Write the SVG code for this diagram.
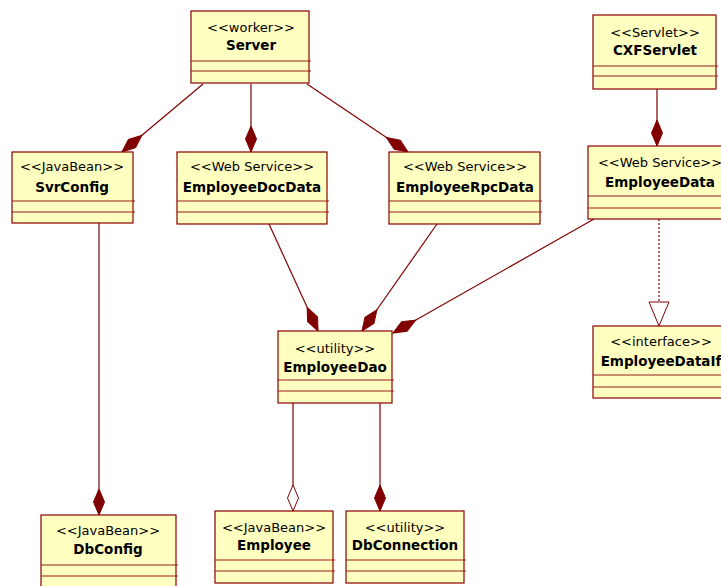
<svg xmlns="http://www.w3.org/2000/svg" width="721" height="586" viewBox="0 0 721 586">
<style>
.box{fill:#ffffc0;stroke:#8b0000;stroke-width:1.2}
.sep{stroke:#9a1c1c;stroke-width:1.2}
.st{font-family:"DejaVu Sans",sans-serif;font-size:13px;fill:#000;text-anchor:middle}
.nm{font-family:"DejaVu Sans",sans-serif;font-size:13.5px;font-weight:bold;fill:#000;text-anchor:middle}
.ln{stroke:#800000;stroke-width:1.2;fill:none}
.comp{marker-end:url(#dfill)}
.aggr{marker-end:url(#dopen)}
.real{stroke-dasharray:2,2;marker-end:url(#tri)}
</style>
<defs>
<marker id="dfill" viewBox="0 0 28 12" refX="27" refY="6" markerWidth="28" markerHeight="12" markerUnits="userSpaceOnUse" orient="auto"><path d="M1,6 L14,0.5 L27,6 L14,11.5 Z" fill="#800000" stroke="#800000" stroke-width="1"/></marker>
<marker id="dopen" viewBox="0 0 28 12" refX="27" refY="6" markerWidth="28" markerHeight="12" markerUnits="userSpaceOnUse" orient="auto"><path d="M1,6 L14,0.5 L27,6 L14,11.5 Z" fill="#ffffff" stroke="#800000" stroke-width="1"/></marker>
<marker id="tri" viewBox="0 0 26 22" refX="25" refY="11" markerWidth="26" markerHeight="22" markerUnits="userSpaceOnUse" orient="auto"><path d="M1,1 L25,11 L1,21 Z" fill="#ffffff" stroke="#800000" stroke-width="1"/></marker>
</defs>

<g id="connectors">
<line class="ln comp" x1="203" y1="84" x2="122" y2="152"/>
<line class="ln comp" x1="251" y1="84" x2="251" y2="152"/>
<line class="ln comp" x1="307" y1="84" x2="408" y2="152"/>
<line class="ln comp" x1="657" y1="89" x2="657" y2="146"/>
<line class="ln comp" x1="269" y1="224" x2="318" y2="331"/>
<line class="ln comp" x1="437" y1="224" x2="362" y2="331"/>
<line class="ln comp" x1="594" y1="219" x2="393" y2="333"/>
<line class="ln real" x1="659" y1="219" x2="659" y2="326"/>
<line class="ln comp" x1="99" y1="223" x2="99" y2="515"/>
<line class="ln aggr" x1="293" y1="403" x2="293" y2="511"/>
<line class="ln comp" x1="380" y1="403" x2="380" y2="511"/>
</g>

<g id="Server">
<rect class="box" x="191" y="11" width="118" height="72"/>
<line class="sep" x1="191" y1="61" x2="311" y2="61"/>
<line class="sep" x1="191" y1="71" x2="311" y2="71"/>
<text class="st" x="251" y="32">&lt;&lt;worker&gt;&gt;</text>
<text class="nm" x="251" y="50">Server</text>
</g>

<g id="CXFServlet">
<rect class="box" x="593" y="15" width="123" height="74"/>
<line class="sep" x1="593" y1="66" x2="718" y2="66"/>
<line class="sep" x1="593" y1="76" x2="718" y2="76"/>
<text class="st" x="655" y="37">&lt;&lt;Servlet&gt;&gt;</text>
<text class="nm" x="655" y="55">CXFServlet</text>
</g>

<g id="SvrConfig">
<rect class="box" x="12" y="152" width="121" height="71"/>
<line class="sep" x1="12" y1="201" x2="135" y2="201"/>
<line class="sep" x1="12" y1="212" x2="135" y2="212"/>
<text class="st" x="72" y="171">&lt;&lt;JavaBean&gt;&gt;</text>
<text class="nm" x="72" y="192">SvrConfig</text>
</g>

<g id="EmployeeDocData">
<rect class="box" x="177" y="152" width="150" height="72"/>
<line class="sep" x1="177" y1="201" x2="329" y2="201"/>
<line class="sep" x1="177" y1="212" x2="329" y2="212"/>
<text class="st" x="252" y="171">&lt;&lt;Web Service&gt;&gt;</text>
<text class="nm" x="252" y="192">EmployeeDocData</text>
</g>

<g id="EmployeeRpcData">
<rect class="box" x="389" y="152" width="151" height="72"/>
<line class="sep" x1="389" y1="201" x2="542" y2="201"/>
<line class="sep" x1="389" y1="212" x2="542" y2="212"/>
<text class="st" x="465" y="171">&lt;&lt;Web Service&gt;&gt;</text>
<text class="nm" x="465" y="192">EmployeeRpcData</text>
</g>

<g id="EmployeeData">
<rect class="box" x="588" y="146" width="144" height="73"/>
<line class="sep" x1="588" y1="196" x2="734" y2="196"/>
<line class="sep" x1="588" y1="208" x2="734" y2="208"/>
<text class="st" x="660" y="167">&lt;&lt;Web Service&gt;&gt;</text>
<text class="nm" x="660" y="187">EmployeeData</text>
</g>

<g id="EmployeeDao">
<rect class="box" x="278" y="331" width="114" height="72"/>
<line class="sep" x1="278" y1="380" x2="394" y2="380"/>
<line class="sep" x1="278" y1="391" x2="394" y2="391"/>
<text class="st" x="335" y="353">&lt;&lt;utility&gt;&gt;</text>
<text class="nm" x="335" y="372">EmployeeDao</text>
</g>

<g id="EmployeeDataIf">
<rect class="box" x="593" y="326" width="136" height="72"/>
<line class="sep" x1="593" y1="375" x2="731" y2="375"/>
<line class="sep" x1="593" y1="387" x2="731" y2="387"/>
<text class="st" x="661" y="346">&lt;&lt;interface&gt;&gt;</text>
<text class="nm" x="661" y="366">EmployeeDataIf</text>
</g>

<g id="DbConfig">
<rect class="box" x="41" y="515" width="135" height="74"/>
<line class="sep" x1="41" y1="565" x2="178" y2="565"/>
<line class="sep" x1="41" y1="576" x2="178" y2="576"/>
<text class="st" x="108" y="535">&lt;&lt;JavaBean&gt;&gt;</text>
<text class="nm" x="108" y="554">DbConfig</text>
</g>

<g id="Employee">
<rect class="box" x="215" y="511" width="118" height="72"/>
<line class="sep" x1="215" y1="560" x2="335" y2="560"/>
<line class="sep" x1="215" y1="571" x2="335" y2="571"/>
<text class="st" x="274" y="532">&lt;&lt;JavaBean&gt;&gt;</text>
<text class="nm" x="274" y="550">Employee</text>
</g>

<g id="DbConnection">
<rect class="box" x="346" y="511" width="118" height="72"/>
<line class="sep" x1="346" y1="560" x2="466" y2="560"/>
<line class="sep" x1="346" y1="571" x2="466" y2="571"/>
<text class="st" x="405" y="532">&lt;&lt;utility&gt;&gt;</text>
<text class="nm" x="405" y="550">DbConnection</text>
</g>
</svg>
